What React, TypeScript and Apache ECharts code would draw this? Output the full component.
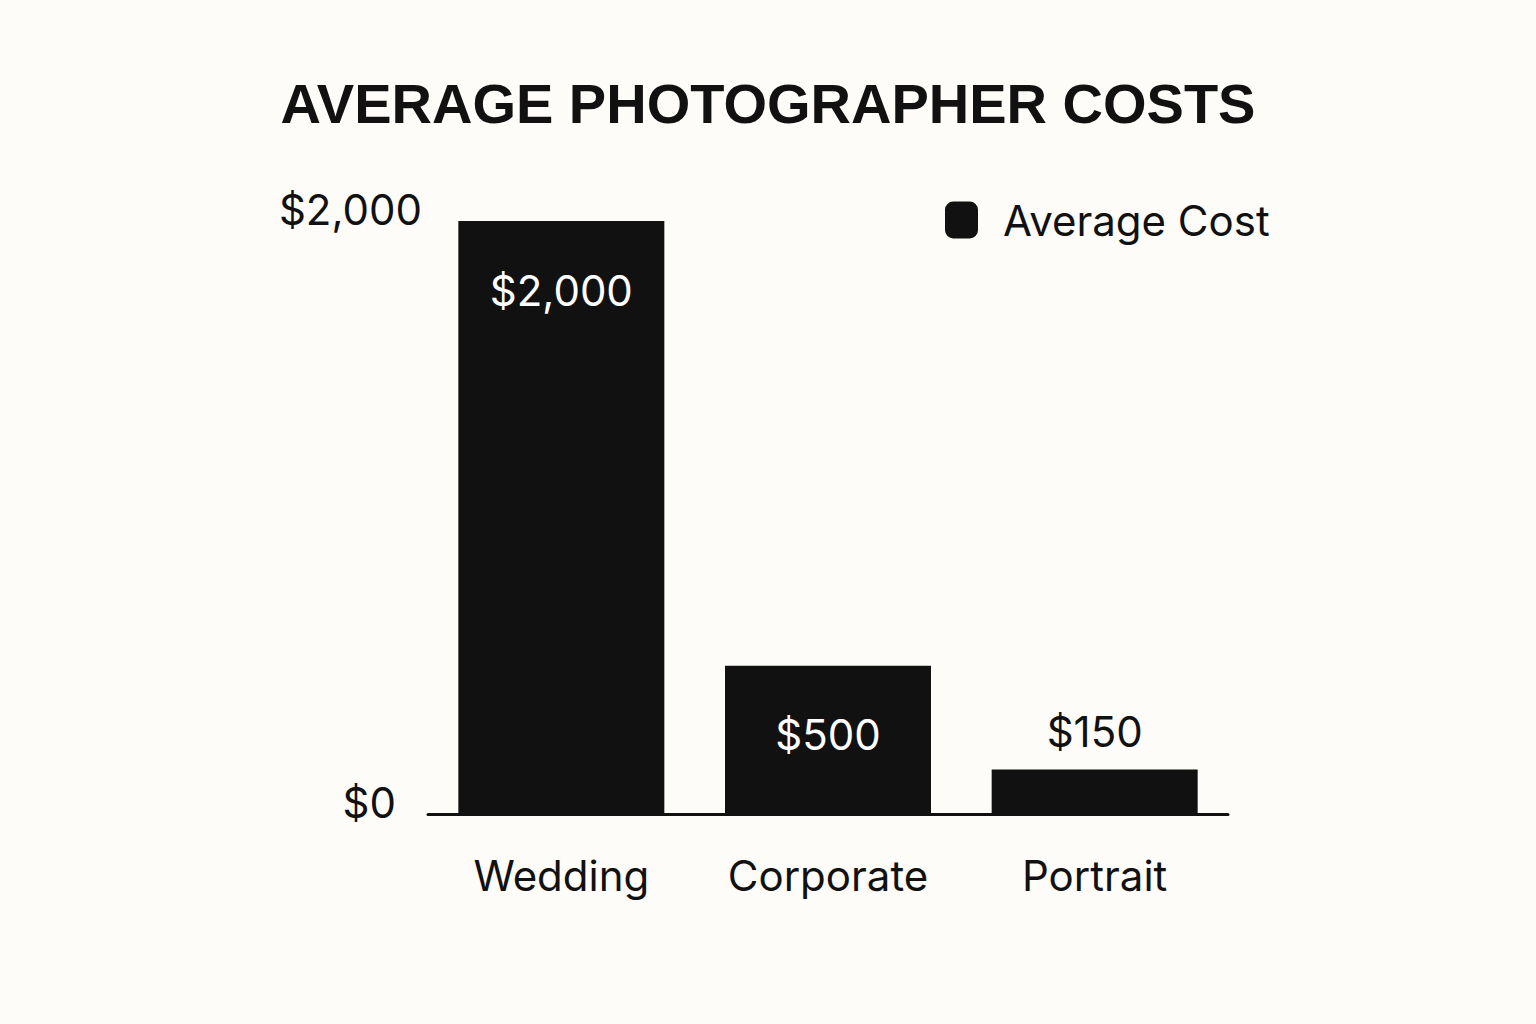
import React, { useEffect, useRef } from "react";
import * as echarts from "echarts";

const categories = ["Wedding", "Corporate", "Portrait"];
const averageCost = [2000, 500, 150];
const yTicks = [0, 2000];
const seriesName = "Average Cost";
const titleText = "AVERAGE PHOTOGRAPHER COSTS";

const fmt = (v: number) => "$" + v.toLocaleString("en-US");

export default function App() {
  const ref = useRef<HTMLDivElement>(null);
  useEffect(() => {
    document.body.style.margin = "0";
    const chart = echarts.init(ref.current!, null, { renderer: "svg" });
    const ink = "#111111";
    const font = "Inter";
    const yLabelStyle = { fontFamily: font, fontSize: 42, color: ink, lineHeight: 24 };
    chart.setOption({
      animation: false,
      backgroundColor: "#FDFCF8",
      title: {
        text: titleText,
        left: "center",
        top: 70,
        textStyle: { fontFamily: "Liberation Sans", fontWeight: "bold", fontSize: 56, color: ink },
      },
      legend: {
        data: [seriesName],
        left: 940,
        top: 194,
        itemWidth: 33,
        itemHeight: 37,
        icon: "roundRect",
        textStyle: { fontFamily: font, fontSize: 42, color: ink, padding: [0, 0, 0, 20] },
      },
      grid: { left: 428, right: 308, top: 221, bottom: 210, containLabel: false },
      xAxis: {
        type: "category",
        data: categories,
        axisLine: { show: true, lineStyle: { color: ink, width: 3 } },
        axisTick: { show: false },
        axisLabel: { fontFamily: font, fontSize: 42, color: ink, margin: 40 },
      },
      yAxis: {
        type: "value",
        min: yTicks[0],
        max: yTicks[yTicks.length - 1],
        interval: yTicks[yTicks.length - 1] - yTicks[0],
        splitLine: { show: false },
        axisLine: { show: false },
        axisTick: { show: false },
        axisLabel: {
          ...yLabelStyle,
          margin: 6,
          verticalAlign: "bottom",
          formatter: (v: number) => (v === 0 ? "{z|" + fmt(v) + "}" : fmt(v)),
          rich: { z: { ...yLabelStyle, padding: [0, 26, 0, 0] } },
        },
      },
      series: [
        {
          name: seriesName,
          type: "bar",
          data: averageCost.map((v, i) => ({
            value: v,
            label:
              i === averageCost.length - 1
                ? { position: "top", distance: 17, color: ink }
                : { position: "insideTop", distance: 48, color: "#ffffff" },
          })),
          barWidth: 206,
          itemStyle: { color: ink },
          label: {
            show: true,
            fontFamily: font,
            fontSize: 42,
            formatter: (p: any) => fmt(p.value),
          },
        },
      ],
    });
    return () => chart.dispose();
  }, []);
  return <div ref={ref} style={{ width: 1536, height: 1024 }} />;
}
